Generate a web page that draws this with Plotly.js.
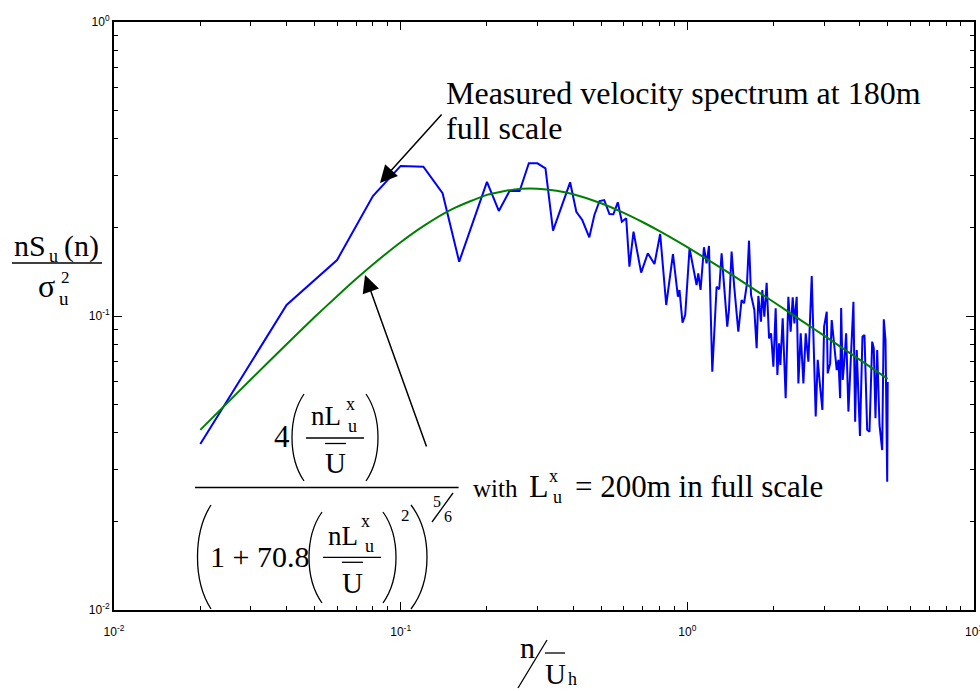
<!DOCTYPE html>
<html>
<head>
<meta charset="utf-8">
<script src="https://cdn.plot.ly/plotly-3.0.1.min.js"></script>
<style>html,body{margin:0;padding:0;background:#fff;}#chart{width:980px;height:691px;}</style>
</head>
<body>
<div id="chart"></div>
<script>
// ---- Data ----
// Measured velocity spectrum (blue), n/U_h vs nS_u(n)/sigma_u^2
const measuredX = [0.02,0.04,0.06,0.08,0.10,0.12,0.14,0.16,0.20,0.22,
  0.24,0.26,0.28,0.30,0.32,0.34,0.39,0.41,0.43,0.455,
  0.474,0.494,0.513,0.535,0.552,0.572,0.591,0.612,0.628,0.649,
  0.690,0.728,0.768,0.804,0.844,0.891,0.927,0.939,0.962,0.983,
  1.018,1.057,1.077,1.092,1.112,1.143,1.167,1.190,1.222,1.265,
  1.292,1.317,1.353,1.378,1.397,1.427,1.458,1.506,1.546,1.577,
  1.615,1.641,1.668,1.713,1.745,1.769,1.807,1.826,1.856,1.891,
  1.928,1.959,1.996,2.033,2.061,2.089,2.111,2.151,2.203,2.251,
  2.293,2.331,2.363,2.407,2.440,2.486,2.540,2.588,2.644,2.716,
  2.804,2.850,2.905,2.959,3.000,3.064,3.088,3.149,3.189,3.251,
  3.320,3.366,3.412,3.440,3.484,3.532,3.581,3.647,3.716,3.797,
  3.849,3.899,4.001,4.082,4.149,4.240,4.319,4.414,4.471,4.532,
  4.595,4.681,4.783,4.845,4.912,4.980,5.0];
const measuredY = [0.0367,0.109,0.155,0.256,0.324,0.322,0.2615,0.153,0.286,0.2276,
  0.2669,0.2662,0.3307,0.3307,0.318,0.1951,0.2849,0.2263,0.2121,0.1852,
  0.2206,0.2461,0.248,0.2223,0.2218,0.2436,0.2093,0.215,0.1472,0.1935,
  0.1404,0.1634,0.1503,0.1901,0.109,0.1625,0.1163,0.1226,0.0949,0.1008,
  0.1699,0.1397,0.1275,0.1397,0.1226,0.1713,0.1511,0.173,0.0646,0.1258,
  0.1233,0.1634,0.1163,0.092,0.1048,0.1655,0.1252,0.0884,0.1133,0.1105,
  0.1292,0.1804,0.1179,0.1048,0.0777,0.117,0.0956,0.1226,0.0995,0.1298,
  0.0839,0.0873,0.0672,0.1062,0.063,0.0807,0.0681,0.0982,0.0525,0.1163,
  0.0884,0.1158,0.0944,0.1163,0.059,0.0873,0.059,0.0873,0.0699,0.1368,
  0.0455,0.0709,0.0575,0.0479,0.092,0.1034,0.0638,0.069,0.0969,0.0797,
  0.0655,0.0709,0.0525,0.1065,0.0606,0.0709,0.0873,0.0473,0.0718,0.1118,
  0.0437,0.0766,0.0391,0.085,0.0862,0.041,0.0404,0.0818,0.0777,0.0449,
  0.0766,0.0426,0.035,0.0974,0.0829,0.0273,0.0596];

// von Karman target spectrum (green)
const karmanX = [0.02,0.03,0.04,0.05,0.06,0.07,0.08,0.10,0.12,0.15,0.20,0.25,0.30,0.35,
  0.40,0.50,0.60,0.70,0.80,1.0,1.2,1.5,2.0,2.5,3.0,4.0,5.0];
const karmanY = [0.0410,0.0608,0.0802,0.0990,0.1168,0.1338,0.1497,0.1782,0.2022,0.2301,
  0.2582,0.2696,0.2709,0.2667,0.2594,0.2419,0.2243,0.2084,0.1944,0.1715,0.1538,0.1340,
  0.1116,0.0965,0.0857,0.0709,0.0611];

// Axis ticks
const xTickVals = [0.01, 0.1, 1, 10];
const xTickText = ['10<sup>-2</sup>','10<sup>-1</sup>','10<sup>0</sup>','10<sup>1</sup>'];
const yTickVals = [0.01, 0.1, 1];
const yTickText = ['10<sup>-2</sup>','10<sup>-1</sup>','10<sup>0</sup>'];

// Arrow tips (data space) pointing at the curves
const arrowMeasured = {x: 0.0847, y: 0.2835};
const arrowKarman = {x: 0.0751, y: 0.1378};

// ---- layout helpers (pixel -> paper) ----
const W = 980, H = 691, ML = 114, MR = 6, MT = 22, MB = 81;
const PW = W - ML - MR, PH = H - MT - MB;
const PX = x => (x - ML) / PW;
const PY = y => (H - MB - y) / PH;
const SERIF = 'Liberation Serif';

function txt(s, x, base, size, anchor) {
  return {xref:'paper', yref:'paper', x: PX(x), y: PY(base - 0.3375*size),
    xanchor: anchor || 'center', yanchor: 'middle', text: s, showarrow: false,
    borderpad: 0, borderwidth: 0,
    font: {family: SERIF, size: size, color: '#000'}};
}
function ln(x0, y0, x1, y1, w) {
  return {type:'line', xref:'paper', yref:'paper', x0: PX(x0), y0: PY(y0), x1: PX(x1), y1: PY(y1),
    line: {color:'#000', width: w || 1.3}};
}
function paren(xEnd, xBulge, ytop, ybot) {
  const c = (xBulge - 0.25*xEnd)/0.75, h = ybot - ytop;
  const p = 'M ' + PX(xEnd) + ',' + PY(ytop) +
    ' C ' + PX(c) + ',' + PY(ytop + 0.27*h) + ' ' + PX(c) + ',' + PY(ybot - 0.27*h) +
    ' ' + PX(xEnd) + ',' + PY(ybot);
  return {type:'path', xref:'paper', yref:'paper', path: p, line: {color:'#000', width: 1.3}};
}

const traces = [
  {x: measuredX, y: measuredY, type:'scatter', mode:'lines', name:'Measured',
   line:{color:'#0000ff', width:2}},
  {x: karmanX, y: karmanY, type:'scatter', mode:'lines', name:'von Karman',
   line:{color:'#008000', width:2, shape:'spline', smoothing:0.6}}
];

function minorVals(d0, d1) {
  const v = [];
  for (let d = d0; d < d1; d++) for (let k = 2; k <= 9; k++) v.push(k * Math.pow(10, d));
  return v;
}

const axisCommon = {
  type:'log', showline:true, linecolor:'#000', linewidth:2, mirror:'ticks',
  ticks:'inside', ticklen:8, tickwidth:1, tickcolor:'#000',
  showgrid:false, zeroline:false, tickmode:'array',
  tickfont:{family:'Liberation Sans Narrow, Liberation Sans, Arial, sans-serif', size:12, color:'#000'},
};

const annotations = [
  // measured spectrum label + arrow
  txt('Measured velocity spectrum at 180m', 445.5, 103.3, 32, 'left'),
  txt('full scale', 445.5, 139, 32, 'left'),
  {x: Math.log10(arrowMeasured.x), y: Math.log10(arrowMeasured.y), xref:'x', yref:'y',
   ax: 63, ay: -70, text:'', showarrow:true, arrowhead:2, arrowsize:2.3, arrowwidth:1.5, arrowcolor:'#000'},
  {x: Math.log10(arrowKarman.x), y: Math.log10(arrowKarman.y), xref:'x', yref:'y',
   ax: 62, ay: 173, text:'', showarrow:true, arrowhead:2, arrowsize:2.3, arrowwidth:1.5, arrowcolor:'#000'},
  // formula numerator
  txt('4', 282, 446.5, 31),
  txt('nL', 326, 425.5, 27),
  txt('x', 350, 410, 18),
  txt('u', 352, 432, 18),
  txt('U', 335.5, 473, 29),
  // denominator
  txt('1 + 70.8', 259, 566.7, 30),
  txt('nL', 343, 545, 27),
  txt('x', 365, 527.5, 18),
  txt('u', 369, 552, 18),
  txt('U', 352.5, 593, 29),
  txt('2', 405, 521.7, 17),
  txt('5', 436.5, 506.7, 16),
  txt('6', 448, 521.7, 16),
  // with ...
  txt('with', 472.5, 496.7, 25, 'left'),
  txt('L', 539, 496.7, 32),
  txt('x', 553, 482, 18),
  txt('u', 557, 503, 18),
  txt('= 200m in full scale', 575, 496.7, 31, 'left'),
  // y axis title
  txt('nS', 30, 256, 30),
  txt('u', 53, 262, 18),
  txt('(n)', 81, 256, 30),
  txt('σ', 46.5, 296.7, 32),
  txt('2', 65, 283.3, 17),
  txt('u', 64, 305, 19),
  // x axis title
  txt('n', 527, 658, 30),
  txt('U', 555, 684, 29),
  txt('h', 572, 685, 18)
];

const shapes = [
  // numerator
  paren(304, 292, 394, 481), paren(366, 378, 394, 481),
  ln(306, 438, 364, 438), ln(325, 443.5, 346, 443.5),
  // main fraction bar
  ln(195, 487.5, 458.6, 487.5),
  // denominator
  paren(211, 197.5, 505, 609), paren(411, 427, 505, 609),
  paren(322, 309, 512, 603), paren(383, 396, 512, 603),
  ln(323, 557.3, 381, 557.3), ln(342, 562.3, 363, 562.3),
  ln(432, 522, 453, 493),
  // y title bar
  ln(12, 263, 102, 263),
  // x title slash + overbar
  ln(518, 688, 547, 640), ln(545, 653, 565, 653)
];

const layout = {
  width: W, height: H,
  margin: {l: ML, r: MR, t: MT, b: MB, pad: 0},
  paper_bgcolor:'#fff', plot_bgcolor:'#fff',
  showlegend: false,
  xaxis: Object.assign({}, axisCommon, {range:[-2, 1], tickvals: xTickVals, ticktext: xTickText,
    ticklabeloverflow:'allow', ticklabelstandoff: 10,
    minor:{tickmode:'array', tickvals: minorVals(-2, 1), ticks:'inside', ticklen:4, tickcolor:'#000', tickwidth:1, showgrid:false}}),
  yaxis: Object.assign({}, axisCommon, {range:[-2, 0], tickvals: yTickVals, ticktext: yTickText,
    ticklabeloverflow:'allow',
    minor:{tickmode:'array', tickvals: minorVals(-2, 0), ticks:'inside', ticklen:4, tickcolor:'#000', tickwidth:1, showgrid:false}}),
  annotations: annotations,
  shapes: shapes
};

Plotly.newPlot('chart', traces, layout, {displayModeBar:false, staticPlot:true});
</script>
</body>
</html>
